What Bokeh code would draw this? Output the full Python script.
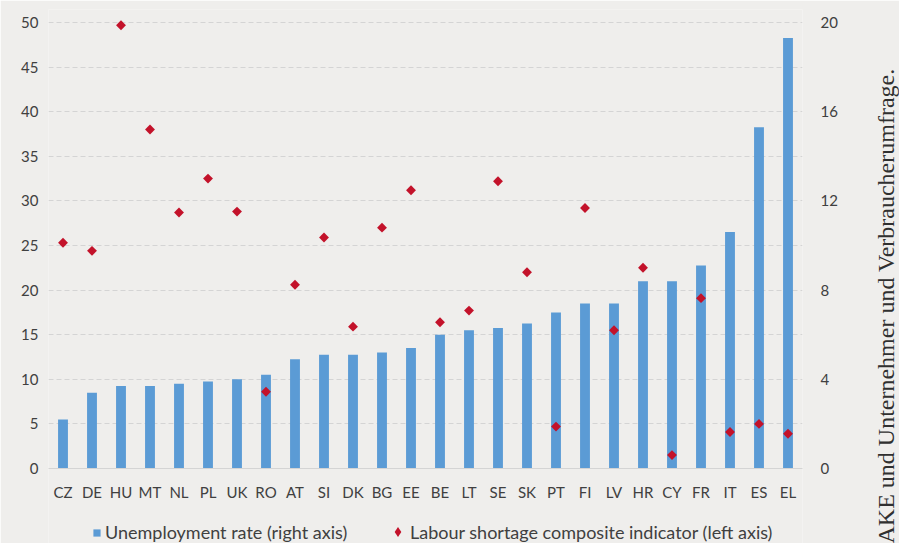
import math
from bokeh.plotting import figure
from bokeh.models import (Range1d, LinearAxis, FixedTicker, Legend, LegendItem,
                          Span, ColumnDataSource)
from bokeh.embed import file_html
from bokeh.resources import INLINE

# ---- data ----
countries = ["CZ", "DE", "HU", "MT", "NL", "PL", "UK", "RO", "AT", "SI", "DK", "BG", "EE",
             "BE", "LT", "SE", "SK", "PT", "FI", "LV", "HR", "CY", "FR", "IT", "ES", "EL"]
unemployment = [2.2, 3.4, 3.7, 3.7, 3.8, 3.9, 4.0, 4.2, 4.9, 5.1, 5.1, 5.2, 5.4,
                6.0, 6.2, 6.3, 6.5, 7.0, 7.4, 7.4, 8.4, 8.4, 9.1, 10.6, 15.3, 19.3]
shortage = [25.3, 24.4, 49.7, 38.0, 28.7, 32.5, 28.8, 8.6, 20.6, 25.9, 15.9, 27.0, 31.2,
            16.4, 17.7, 32.2, 22.0, 4.7, 29.2, 15.5, 22.5, 1.5, 19.1, 4.1, 5.0, 3.9]
left_ticks = [0, 5, 10, 15, 20, 25, 30, 35, 40, 45, 50]
right_ticks = [0, 4, 8, 12, 16, 20]
legend_labels = ["Unemployment rate (right axis)", "Labour shortage composite indicator (left axis)"]
side_note = "AKE und Unternehmer und Verbraucherumfrage."

BG = "#efeeec"
BLUE = "#5b9bd5"
RED = "#c3122a"
TXT = "#404040"
FONT = "Lato"

src = ColumnDataSource(dict(country=countries, unemp=unemployment, short=shortage))

W, H = 920, 543          # canvas a bit wider than the window; the overflow is hidden
top_b, left_b = 9, 48
right_b = W - 802
base_px, top50_px = 468, 22            # pixel rows of left-axis 0 and 50
ppu = (base_px - top50_px) / 50.0      # pixels per left-axis unit
y_end = (base_px - top_b) / ppu
y_start = -(H - base_px) / ppu

p = figure(width=W, height=H, x_range=countries, y_range=Range1d(y_start, y_end),
           output_backend="svg", toolbar_location=None,
           min_border_top=top_b, min_border_left=left_b,
           min_border_right=right_b, min_border_bottom=0)
p.extra_y_ranges = {"right": Range1d(y_start * 0.4, y_end * 0.4)}
p.background_fill_color = BG
p.border_fill_color = BG
p.outline_line_color = None

bars = p.vbar(x="country", top="unemp", bottom=0, width=0.34, y_range_name="right",
              source=src, fill_color=BLUE, line_color=None)
pts = p.scatter(x="country", y="short", marker="square", size=7, angle=45, angle_units="deg",
                source=src, fill_color=RED, line_color=None)
# hidden twin of the points, used only so that the legend shows a diamond
pts_key = p.scatter(x="country", y="short", marker="diamond", size=10, source=src,
                    fill_color=RED, line_color=None, visible=False)

p.xgrid.grid_line_color = None
p.ygrid.grid_line_color = "#d4d4d4"
p.ygrid.grid_line_dash = "5 3"
p.ygrid.ticker = FixedTicker(ticks=left_ticks)
p.add_layout(Span(location=0, dimension="width", line_color="#d4d4d4", line_width=1))

p.yaxis.ticker = FixedTicker(ticks=left_ticks)
raxis = LinearAxis(y_range_name="right", ticker=FixedTicker(ticks=right_ticks))
p.add_layout(raxis, "right")

xax = p.xaxis[0]
xax.fixed_location = 0
for ax in [xax, p.yaxis[0], raxis]:
    ax.axis_line_color = None
    ax.major_tick_line_color = None
    ax.minor_tick_line_color = None
    ax.major_tick_out = 0
    ax.major_label_text_font = FONT
    ax.major_label_text_font_size = "15px"
    ax.major_label_text_color = TXT
p.yaxis[0].major_label_standoff = 10
raxis.major_label_standoff = 18
xax.major_label_standoff = 14

# source note as the label of an extra, tick-less right axis
note_axis = LinearAxis(ticker=FixedTicker(ticks=[]),
                       axis_label=side_note, axis_label_standoff=45,
                       axis_label_orientation=math.pi / 2,
                       axis_label_align="start",
                       axis_label_text_font="Liberation Serif",
                       axis_label_text_font_size="24px",
                       axis_label_text_font_style="normal",
                       axis_label_text_color="#303030",
                       axis_line_color=None, major_tick_line_color=None,
                       minor_tick_line_color=None, major_tick_out=0, minor_tick_out=0)
p.add_layout(note_axis, "right")

common = dict(orientation="horizontal", padding=0, margin=0,
              label_text_font=FONT, label_text_font_size="18px", label_text_color=TXT,
              background_fill_alpha=0, border_line_color=None, inactive_fill_alpha=0)
legA = Legend(items=[LegendItem(label=legend_labels[0], renderers=[bars])],
              location=(44, 0), glyph_width=9, glyph_height=9, label_standoff=4, **common)
legB = Legend(items=[LegendItem(label=legend_labels[1], renderers=[pts_key])],
              location=(337, -1), glyph_width=25, glyph_height=25, label_standoff=0, **common)
p.add_layout(legA)
p.add_layout(legB)

html = file_html(p, INLINE)
html = html.replace("<body>",
                    '<body style="margin:0;overflow:hidden;background-color:%s;">' % BG, 1)
open("out.html", "w").write(html)
